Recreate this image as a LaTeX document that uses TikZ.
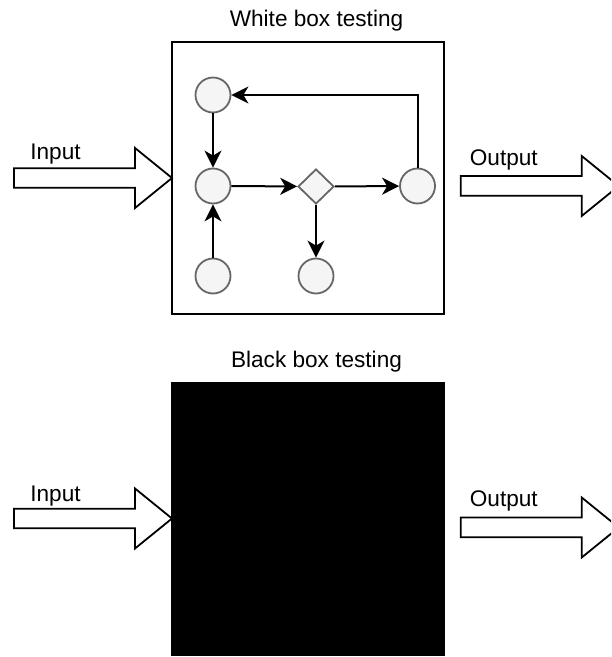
\documentclass[tikz,border=0pt]{standalone}
\usepackage{fontspec}
\setmainfont{Liberation Sans}
\usetikzlibrary{calc,shapes.geometric,arrows.meta}
\definecolor{stateFill}{HTML}{F5F5F5}
\definecolor{stateLine}{HTML}{666666}

\begin{document}
\begin{tikzpicture}[x=0.5pt, y=-0.5pt]

\pgfmathsetlengthmacro{\boxSize}{136pt}
\pgfmathsetlengthmacro{\stateSize}{17.5pt}
\tikzset{
  box/.style={minimum width=\boxSize, minimum height=\boxSize, inner sep=0pt, outer sep=0pt, draw, line width=1pt},
  state/.style={circle, minimum size=\stateSize, inner sep=0pt, draw=stateLine, fill=stateFill, line width=0.9pt},
  choice/.style={diamond, minimum width=18pt, minimum height=17.5pt, inner sep=0pt, draw=stateLine, fill=stateFill, line width=0.9pt},
  link/.style={-{Stealth[length=8.5pt, width=8.5pt, inset=2.5pt]}, line width=1pt},
  flow/.style={draw, fill=white, line width=0.9pt, line join=miter},
  txt/.style={font=\fontsize{11.3}{13}\selectfont, inner sep=0pt},
}

\useasboundingbox (0,0) rectangle (611,657);
\clip (0,0) rectangle (611,657);

\node[box, name=whiteBox] at (308,178) {};
\node[box, fill=black, name=blackBox] at (308,518.5) {};

\node[txt, anchor=base, name=whiteTitle] at ($(whiteBox.north)+(8.5,-15)$) {White box testing};
\node[txt, anchor=base, name=blackTitle] at ($(blackBox.north)+(8.5,-15.5)$) {Black box testing};

  % states
  \node[state, name=state1] at (213,95) {};
  \node[state, name=state2] at (213,186) {};
  \node[state, name=state3] at (213,276) {};
  \node[choice, name=check] at (316,186.5) {};
  \node[state, name=state4] at (316,276) {};
  \node[state, name=lastState] at (417.5,186) {};

\draw[link] (state1) -- (state2);
\draw[link] (state3) -- (state2);
\draw[link] (state2) -- (check);
\draw[link] (check) -- (lastState);
\draw[link] (check) -- (state4);
\draw[link] (lastState.north) |- (state1.east);

  % inputs
  \draw[flow] (whiteBox.west) -- ++(-37,-30) -- ++(0,20.3) -- ++(-121,0) -- ++(0,19.4) -- ++(121,0) -- ++(0,20.3) -- cycle;
  \draw[flow] (blackBox.west) -- ++(-37,-30) -- ++(0,20.3) -- ++(-121,0) -- ++(0,19.4) -- ++(121,0) -- ++(0,20.3) -- cycle;
  % outputs
  \draw[flow] ($(whiteBox.east)+(16.7,-2)$) -- ++(121,0) -- ++(0,-20) -- ++(37,30) -- ++(-37,30) -- ++(0,-20.3) -- ++(-121,0) -- cycle;
  \draw[flow] ($(blackBox.east)+(16.7,-1)$) -- ++(121,0) -- ++(0,-20) -- ++(37,30) -- ++(-37,30) -- ++(0,-20.3) -- ++(-121,0) -- cycle;

\node[txt, anchor=base west, name=input1] at (30,160) {Input};
\node[txt, anchor=base west, name=output1] at (469.5,166) {Output};
\node[txt, anchor=base west, name=input2] at (30,501) {Input};
\node[txt, anchor=base west, name=output2] at (469.5,506) {Output};

\end{tikzpicture}
\end{document}
